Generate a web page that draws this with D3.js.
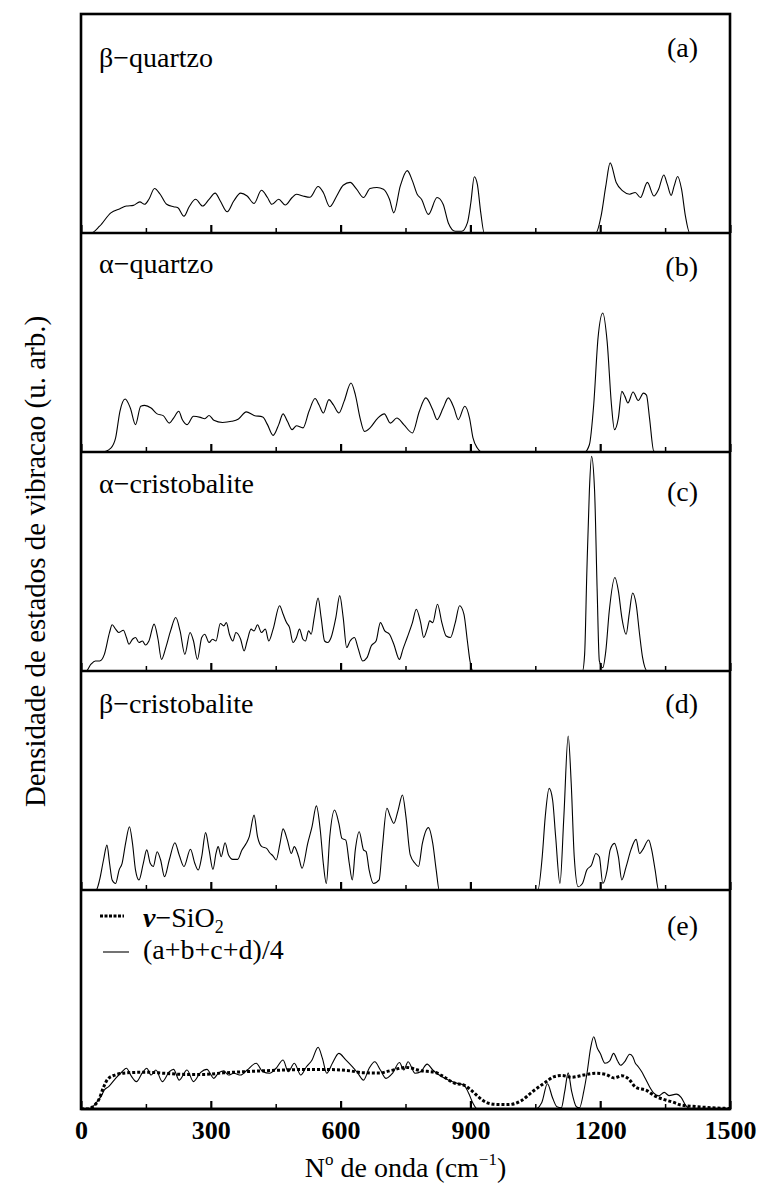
<!DOCTYPE html>
<html lang="en">
<head>
<meta charset="utf-8">
<title>Densidade de estados de vibracao - SiO2</title>
<script src="https://cdn.jsdelivr.net/npm/d3@7"></script>
<style>
body { margin: 0; background: #fff; }
svg { font-family: "Liberation Serif", "Times New Roman", serif; }
svg text { fill: #000; }
</style>
</head>
<body>
<div id="vis"></div>
<script>

/* Data (wavenumber cm-1, intensity in arb. units, 100 = panel height) */
/* ================================================================== */

var majorTicks = [0, 300, 600, 900, 1200, 1500];
var minorTicks = [150, 450, 750, 1050, 1350];

var panelNames = ['β−quartzo', 'α−quartzo', 'α−cristobalite', 'β−cristobalite'];
var panelTags = ['(a)', '(b)', '(c)', '(d)', '(e)'];

var betaQuartzo = [[0,0],[23,0],[43,3.1],[69,9.2],[90,11.1],[105,12.3],[121,12.6],[136,14.2],[147,13.1],[157,15.4],[170,20.3],[183,17.7],[198,13.1],[214,12],[224,11.5],[238,7.7],[250,12],[265,15.4],[281,12.3],[296,15.4],[310,18.2],[322,14.6],[338,9.7],[353,14.6],[369,18.2],[384,16.9],[400,13.5],[417,19.5],[431,16.2],[441,13.1],[457,15.4],[472,12.8],[488,16.2],[498,17.7],[513,16.9],[529,16.3],[548,21.2],[560,18.5],[575,12],[591,16.9],[606,21.8],[622,23.1],[637,20],[653,16.2],[668,20.3],[684,20.8],[699,20],[713,15.4],[723,9.2],[738,21.5],[754,28.5],[766,23.8],[777,17.7],[787,15.4],[803,8.5],[823,16.2],[837,13.1],[849,4.6],[865,0.8],[880,0.8],[893,4.6],[901,13.8],[909,25.7],[916,22.3],[924,9.2],[932,0],[1190,0],[1202,7.7],[1213,21.5],[1223,32],[1237,23.1],[1252,19.2],[1268,17.7],[1281,18.5],[1293,16.2],[1309,23.1],[1324,16.9],[1335,20],[1347,26.5],[1355,22.3],[1364,17.2],[1371,21.5],[1379,25.8],[1388,20],[1397,7.7],[1407,0],[1500,0]];

var alphaQuartzo = [[0,0],[49,0],[69,1.8],[80,6.4],[90,18.6],[102,24.2],[114,20.1],[126,12.5],[138,20.9],[147,21.3],[162,20.1],[176,17.4],[190,16.6],[204,13.2],[214,15.5],[226,18.6],[234,14.8],[245,12.5],[260,16.3],[276,15.8],[286,15.2],[296,16.7],[307,14.5],[327,13.5],[348,14],[364,15.1],[382,18.3],[400,16.7],[420,16],[431,12.5],[444,7.6],[457,12.5],[467,17.4],[477,14],[488,10.2],[498,12],[513,11],[527,18.6],[541,24.4],[550,21.6],[560,17.8],[573,23.9],[583,21.6],[596,17.8],[608,23.1],[624,31.5],[634,26.2],[645,15.5],[655,9.4],[668,11],[686,15.5],[701,17.4],[715,13.2],[730,15.5],[746,12.5],[766,8.7],[782,18.6],[797,24.7],[813,19.3],[823,14.8],[837,20.1],[849,24.7],[862,20.1],[872,14.8],[887,20.9],[898,15.5],[906,6.4],[916,1.8],[927,0],[1164,0],[1175,3.3],[1185,21.6],[1195,52.1],[1206,63.5],[1216,50.5],[1226,21.6],[1233,10.2],[1242,15.5],[1250,27.7],[1257,25.4],[1264,22.4],[1276,27.4],[1288,23.5],[1300,26.9],[1307,26],[1314,15.5],[1324,0.3],[1335,0],[1500,0]];

var alphaCristobalite = [[0,0],[12,0],[23,3.1],[33,4.6],[43,4.6],[54,7.6],[66,17.6],[72,21.1],[80,19.1],[87,17.6],[98,18.6],[105,15.3],[111,12.2],[119,14.5],[126,15.3],[134,13],[142,13.7],[149,11.9],[157,13.7],[169,21.4],[178,14.5],[186,5.3],[196,10.7],[207,18.3],[219,24.4],[229,18.3],[240,7.6],[252,17.6],[260,13.7],[269,5.3],[279,15.3],[286,16.8],[296,13],[304,14.5],[312,13.7],[322,21.7],[330,20.6],[336,22.1],[343,16.8],[351,13.7],[358,17.6],[369,14.5],[377,9.2],[384,13.7],[393,19.1],[400,18.3],[408,21.1],[417,17.6],[426,19.1],[434,13.7],[444,19.1],[459,29.8],[467,26],[475,22.1],[482,19.8],[490,13],[498,15.3],[505,19.1],[513,14.5],[519,13.7],[526,18.3],[532,16.8],[539,24.4],[548,33.3],[555,24.4],[563,13.7],[570,13],[578,15.3],[589,24.4],[598,34.4],[606,24.4],[614,10.7],[622,13.7],[632,15.3],[640,10.7],[651,4.6],[661,6.1],[671,11.5],[682,13.7],[692,22.1],[702,18.3],[713,16.8],[723,12.2],[736,5.3],[744,9.9],[754,15.3],[766,22.1],[775,28.2],[785,22.1],[792,15.3],[800,19.1],[806,22.9],[813,22.1],[824,30.5],[834,22.1],[844,16],[854,15.3],[865,22.1],[875,29.8],[885,26],[893,13.7],[899,4.6],[906,0],[1159,0],[1164,7.6],[1169,44.3],[1175,82.4],[1180,98],[1187,82.4],[1193,36.6],[1198,4.6],[1206,1.5],[1213,9.2],[1221,27.5],[1234,42.7],[1242,36.6],[1250,24.4],[1260,16.8],[1267,26],[1275,35.6],[1283,30.5],[1291,16.8],[1298,6.1],[1309,0],[1500,0]];

var betaCristobalite = [[0,0],[35,0],[43,4.6],[52,13.7],[60,20.5],[66,12.2],[72,4.6],[80,3],[88,9.1],[95,12.2],[103,21.3],[112,28.9],[119,21.3],[126,9.1],[134,4.6],[144,12.2],[152,18.3],[160,12.2],[167,10.7],[176,17.5],[184,13.7],[193,6.1],[204,13.7],[217,21.6],[227,16],[238,10.7],[253,18.6],[263,12.2],[271,9.1],[279,15.2],[288,26.2],[296,18.3],[305,9.4],[312,16.7],[317,19.8],[324,15.2],[333,21.6],[341,16],[351,14],[362,14],[372,18.3],[382,21.3],[389,24.4],[400,34.2],[408,24.4],[418,19.8],[429,19],[436,17],[444,15.5],[451,13.7],[460,21.3],[467,27.9],[477,22.8],[486,16.7],[493,19.8],[503,15.2],[511,9.9],[524,21.3],[534,28.9],[544,38.4],[553,27.4],[560,12.2],[567,3],[575,24.4],[586,36.5],[596,30.4],[603,23.6],[612,22.8],[620,12.2],[627,4.6],[634,18.3],[643,26.6],[653,18.3],[659,17.5],[666,9.1],[676,3],[689,4.6],[696,18.3],[707,37.3],[715,33.5],[723,30.4],[733,36.5],[743,43.4],[751,33.5],[761,16],[772,12.2],[780,10.7],[789,21.3],[803,28.5],[813,21.3],[821,9.1],[828,0],[1056,0],[1066,15.2],[1073,33.5],[1082,46.4],[1090,41.1],[1097,24.4],[1107,3],[1116,33.5],[1126,70.3],[1133,48.7],[1140,15.2],[1149,1.5],[1159,3],[1169,9.1],[1180,11.4],[1190,16.7],[1198,15.2],[1206,3],[1216,9.1],[1223,18.3],[1233,21.3],[1242,15.2],[1250,4.6],[1260,10.7],[1271,18.3],[1283,23.1],[1291,16.7],[1298,18.3],[1312,22.8],[1319,18.3],[1327,9.1],[1335,0],[1500,0]];

// panel (e): vitreous silica (dotted) and mean of a-d (solid)
var vitreousSiO2 = [[0,0],[14,0],[30,1.5],[42,4.6],[52,9.9],[62,13.7],[78,15.5],[104,16.5],[149,16.8],[194,16.3],[239,15.8],[284,15.8],[329,16.5],[374,17],[441,17.6],[509,18],[577,18],[622,17.4],[650,16.6],[689,16.4],[715,17.5],[752,19],[785,17.5],[819,16.7],[840,14.5],[862,11.9],[886,10.8],[903,8.4],[920,5.3],[937,3],[959,2.1],[988,2],[1016,3.6],[1044,8],[1072,12],[1094,14.8],[1111,15.3],[1134,14.5],[1162,15.5],[1190,16.3],[1213,15.8],[1232,14.2],[1250,15.2],[1266,13.7],[1282,9.9],[1308,8.4],[1325,6.1],[1348,4.3],[1370,3],[1387,1.8],[1421,1.1],[1466,0.5],[1500,0.2]];

var meanCrystals = [[0,0],[19,0],[36,3],[47,6],[54,8.7],[64,10.2],[80,14],[95,17],[105,18.6],[116,15.1],[128,12.5],[142,16.6],[152,18.6],[162,15.5],[173,17.8],[188,12.5],[204,17],[214,18.1],[227,13.2],[245,17.8],[260,12.5],[276,16.6],[291,18.1],[307,14],[317,16.3],[330,17.4],[341,15.5],[353,16.3],[369,15.5],[384,17.8],[405,20.9],[420,17],[436,16.3],[451,18.6],[467,22.4],[479,17],[493,20.9],[508,15.5],[521,19.3],[534,22.4],[548,28.2],[558,23.1],[568,16.3],[581,20.9],[596,25.4],[612,22.4],[627,19.3],[640,16.3],[653,13.2],[666,18.6],[679,21.6],[692,17.8],[705,14],[720,16.3],[736,21.2],[746,17.8],[756,21.6],[772,16.3],[785,17],[800,20.5],[813,17.8],[828,15.5],[849,13.2],[870,11.7],[885,11],[896,7.2],[906,2.6],[916,0],[1050,0],[1065,3],[1078,11.5],[1090,5],[1100,1],[1110,0.5],[1118,8],[1126,16.5],[1134,8],[1145,1],[1152,0.5],[1162,8],[1170,17],[1178,28],[1185,33],[1193,28],[1200,25.4],[1211,20.9],[1222,22],[1231,25.4],[1240,22],[1247,20],[1258,22],[1268,25],[1275,24],[1281,21],[1288,19.3],[1296,17],[1304,14],[1314,10.2],[1324,7.2],[1335,6],[1348,7.6],[1359,6.1],[1376,6.8],[1387,5.3],[1398,1.5],[1410,0],[1500,0]];


/* Layout */
/* ====== */

var W = 761, H = 1186;
var plotLeft = 81, plotRight = 730, plotTop = 14, panelH = 219;
var nPanels = 5;
var plotBottom = plotTop + nPanels * panelH;

var nameOffsets = [53, 40, 41, 42];
var tagOffsets = [43, 43, 49, 42, 45];

var svg = d3.select('#vis')
	.append('svg')
		.attr('width', W)
		.attr('height', H);

var x = d3.scaleLinear().domain([0, 1500]).range([plotLeft, plotRight]);
var y = d3.scaleLinear().domain([0, 100]).range([panelH, 0]);

var line = d3.line()
	.x(function(d) { return x(d[0]); })
	.y(function(d) { return y(d[1]); })
	.curve(d3.curveMonotoneX);

var series = [betaQuartzo, alphaQuartzo, alphaCristobalite, betaCristobalite];

svg.append('clipPath').attr('id', 'clip')
	.append('rect')
		.attr('x', plotLeft).attr('y', 0)
		.attr('width', plotRight - plotLeft).attr('height', panelH);


/* Panels */
/* ====== */

function drawTicks(g) {
	g.append('g')
		.call(d3.axisTop(x).tickValues(majorTicks).tickSize(8).tickFormat(''))
		.call(function(a) {
			a.select('.domain').remove();
			a.selectAll('line').attr('stroke', '#000').attr('stroke-width', 2.2);
		});
	g.append('g')
		.call(d3.axisTop(x).tickValues(minorTicks).tickSize(5).tickFormat(''))
		.call(function(a) {
			a.select('.domain').remove();
			a.selectAll('line').attr('stroke', '#000').attr('stroke-width', 1.5);
		});
}

for (var i = 0; i < nPanels; i++) {

	var g = svg.append('g')
		.attr('transform', 'translate(0,' + (plotTop + i * panelH) + ')');

	if (i < 4) {
		g.append('path')
			.datum(series[i])
			.attr('clip-path', 'url(#clip)')
			.attr('d', line)
			.attr('fill', 'none')
			.attr('stroke', '#000')
			.attr('stroke-width', 1.1);

		g.append('text')
			.attr('x', 99)
			.attr('y', nameOffsets[i])
			.attr('font-size', 28)
			.text(panelNames[i]);
	} else {
		g.append('path')
			.datum(meanCrystals)
			.attr('clip-path', 'url(#clip)')
			.attr('d', line)
			.attr('fill', 'none')
			.attr('stroke', '#000')
			.attr('stroke-width', 1.1);

		g.append('path')
			.datum(vitreousSiO2)
			.attr('clip-path', 'url(#clip)')
			.attr('d', line)
			.attr('fill', 'none')
			.attr('stroke', '#000')
			.attr('stroke-width', 3)
			.attr('stroke-dasharray', '3,2');

		// legend
		g.append('line')
			.attr('x1', 100).attr('x2', 124)
			.attr('y1', 26).attr('y2', 26)
			.attr('stroke', '#000').attr('stroke-width', 3)
			.attr('stroke-dasharray', '3,1.5');
		var t1 = g.append('text')
			.attr('x', 143).attr('y', 37)
			.attr('font-size', 28);
		t1.append('tspan').attr('font-weight', 'bold').attr('font-style', 'italic').text('v');
		t1.append('tspan').text('−SiO');
		t1.append('tspan').attr('font-size', 18).attr('dy', 6).text('2');

		g.append('line')
			.attr('x1', 103).attr('x2', 129)
			.attr('y1', 62).attr('y2', 62)
			.attr('stroke', '#000').attr('stroke-width', 1.1);
		g.append('text')
			.attr('x', 143).attr('y', 69)
			.attr('font-size', 28)
			.text('(a+b+c+d)/4');
	}

	g.append('text')
		.attr('x', 698)
		.attr('y', tagOffsets[i])
		.attr('text-anchor', 'end')
		.attr('font-size', 28)
		.text(panelTags[i]);

	var tg = g.append('g').attr('transform', 'translate(0,' + panelH + ')');
	drawTicks(tg);

	g.append('line')
		.attr('x1', plotLeft).attr('x2', plotRight)
		.attr('y1', panelH).attr('y2', panelH)
		.attr('stroke', '#000').attr('stroke-width', 2.6);
}

// outer frame
svg.append('rect')
	.attr('x', plotLeft).attr('y', plotTop)
	.attr('width', plotRight - plotLeft).attr('height', plotBottom - plotTop)
	.attr('fill', 'none')
	.attr('stroke', '#000')
	.attr('stroke-width', 2.6);


/* Axis labels */
/* =========== */

svg.append('g')
	.attr('transform', 'translate(0,' + plotBottom + ')')
	.call(d3.axisBottom(x).tickValues(majorTicks).tickSize(0).tickPadding(12).tickFormat(d3.format('d')))
	.call(function(a) {
		a.select('.domain').remove();
		a.selectAll('text')
			.attr('font-family', '"Liberation Serif", serif')
			.attr('font-size', 26)
			.attr('font-weight', 'bold')
			.attr('fill', '#000');
	});

var xt = svg.append('text')
	.attr('x', (plotLeft + plotRight) / 2)
	.attr('y', 1177)
	.attr('text-anchor', 'middle')
	.attr('font-size', 28);
xt.append('tspan').text('N');
xt.append('tspan').attr('font-size', 17).attr('dy', -12).text('o');
xt.append('tspan').attr('dy', 12).text(' de onda (cm');
xt.append('tspan').attr('font-size', 17).attr('dy', -12).text('−1');
xt.append('tspan').attr('dy', 12).text(')');

svg.append('text')
	.attr('transform', 'translate(45,' + ((plotTop + plotBottom) / 2) + ') rotate(-90)')
	.attr('text-anchor', 'middle')
	.attr('font-size', 29)
	.text('Densidade de estados de vibracao (u. arb.)');

</script>
</body>
</html>
